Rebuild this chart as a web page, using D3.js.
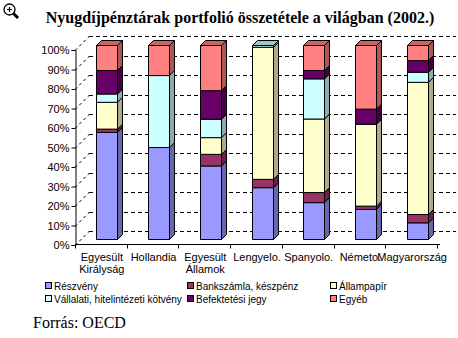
<!DOCTYPE html>
<html><head><meta charset="utf-8">
<script src="https://cdn.jsdelivr.net/npm/d3@7"></script>
<style>body{margin:0;background:#fff}svg{display:block}</style>
</head><body>
<script>
const categories = [["Egyesült","Királyság"],["Hollandia"],["Egyesült","Államok"],["Lengyelo."],["Spanyolo."],["Németo."],["Magyarország"]];
const seriesNames = ["Részvény","Bankszámla, készpénz","Állampapír","Vállalati, hitelintézeti kötvény","Befektetési jegy","Egyéb"];
const reszveny   = [55.2, 47.4, 37.9, 26.7, 19.0, 15.5,  8.6];
const bankszamla = [ 1.7,  0.0,  6.0,  4.3,  5.2,  1.7,  4.3];
const allampapir = [13.8,  0.0,  8.6, 68.1, 37.9, 42.2, 68.1];
const kotveny    = [ 4.3, 37.1,  9.5,  0.9, 20.7,  0.0,  5.2];
const befektetesi= [12.1,  0.0, 14.7,  0.0,  4.3,  7.8,  6.0];
const egyeb      = [12.9, 15.5, 23.3,  0.0, 12.9, 32.8,  7.8];
const yTicks = [0,10,20,30,40,50,60,70,80,90,100];
const title = "Nyugdíjpénztárak portfolió összetétele a világban (2002.)";
const source = "Forrás: OECD";

const colors = ["#9999FF","#993366","#FFFFCC","#CCFFFF","#660066","#FF8080"];
const seriesVals = [reszveny,bankszamla,allampapir,kotveny,befektetesi,egyeb];

const W=458,H=338;
const svg=d3.select("body").append("svg").attr("width",W).attr("height",H);

// title
svg.append("text").attr("x",240).attr("y",23).attr("text-anchor","middle")
  .attr("font-family","'Liberation Serif','Times New Roman',serif").attr("font-weight","bold")
  .attr("font-size",16).text(title);

// magnifier icon
const ic=svg.append("g").attr("transform","translate(3,3)");
ic.append("line").attr("x1",10).attr("y1",10).attr("x2",15).attr("y2",15).attr("stroke","#000").attr("stroke-width",3);
ic.append("circle").attr("cx",6.5).attr("cy",6.5).attr("r",5.5).attr("fill","#fff").attr("stroke","#000").attr("stroke-width",1.3);
ic.append("path").attr("d","M4,6.5H9M6.5,4V9").attr("stroke","#000").attr("stroke-width",1.2);

const x0=75,x1=437,depth=14;
const xScale=d3.scaleBand().domain(categories.map((c,i)=>i)).range([x0,x1]).padding(0);
const yAxisScale=d3.scaleLinear().domain([0,100]).range([245,50]);
const yBar=d3.scaleLinear().domain([0,100]).range([239.5,45.5]);

// back wall gridlines + side wall diagonals
const grid=svg.append("g").attr("stroke","#000").attr("stroke-width",1).attr("stroke-dasharray","4,3").attr("fill","none");
yTicks.forEach(t=>{
  const yf=Math.round(yAxisScale(t))+0.5;
  grid.append("line").attr("x1",x0+depth).attr("x2",456).attr("y1",yf-depth).attr("y2",yf-depth);
  grid.append("line").attr("x1",x0).attr("x2",x0+depth).attr("y1",yf).attr("y2",yf-depth).attr("stroke-dasharray","3,3");
});

// axes
const yAxis=d3.axisLeft(yAxisScale).tickValues(yTicks).tickFormat(d=>d+"%").tickSize(4);
const ya=svg.append("g").attr("transform",`translate(${x0+0.5},0)`).call(yAxis);
ya.select(".domain").attr("stroke","#000");
ya.selectAll(".tick line").attr("stroke","#000");
ya.selectAll("text").attr("font-family","'Liberation Sans',Arial,sans-serif").attr("font-size",11).attr("fill","#000").attr("x",-6);

const xa=svg.append("g").attr("transform","translate(0,244.5)");
xa.append("line").attr("x1",x0).attr("x2",x1+3).attr("stroke","#000");
categories.forEach((c,i)=>{
  const xs=Math.round(xScale(i))+0.5;
  xa.append("line").attr("x1",xs).attr("x2",xs).attr("y1",0).attr("y2",4).attr("stroke","#000");
});
xa.append("line").attr("x1",x1+0.5).attr("x2",x1+0.5).attr("y1",0).attr("y2",4).attr("stroke","#000");
categories.forEach((c,i)=>{
  const cx=xScale(i)+xScale.bandwidth()/2+1;
  const t=svg.append("text").attr("text-anchor","middle").attr("font-family","'Liberation Sans',Arial,sans-serif").attr("font-size",11);
  c.forEach((line,j)=>t.append("tspan").attr("x",cx).attr("y",261+j*12).text(line));
});

// bars
const bw=21, bd=5, off=6;
const shade=(c,k)=>d3.rgb(c).darker(k).formatHex();
categories.forEach((c,i)=>{
  const bx=Math.round(xScale(i)+(xScale.bandwidth()-bw)/2+off)+0.5;
  let cum=0;
  const g=svg.append("g").attr("stroke","#000").attr("stroke-width",1).attr("stroke-linejoin","round");
  seriesVals.forEach((vals,s)=>{
    const v=vals[i]; if(v<=0) return;
    const yb=yBar(cum), yt=yBar(cum+v);
    cum+=v;
    g.append("rect").attr("x",bx).attr("y",yt).attr("width",bw).attr("height",yb-yt).attr("fill",colors[s]);
    g.append("path").attr("d",`M${bx+bw},${yb}L${bx+bw+bd},${yb-bd}L${bx+bw+bd},${yt-bd}L${bx+bw},${yt}Z`).attr("fill",shade(colors[s],1.1));
  });
  let lastS=-1; seriesVals.forEach((vals,s)=>{ if(vals[i]>0) lastS=s; });
  const yt=yBar(cum);
  g.append("path").attr("d",`M${bx},${yt}L${bx+bd},${yt-bd}L${bx+bw+bd},${yt-bd}L${bx+bw},${yt}Z`).attr("fill",shade(colors[lastS],0.7));
});

// legend
const legX=[45,187,330], legY=[290,303];
seriesNames.forEach((n,s)=>{
  const lx=legX[s%3], ly=legY[Math.floor(s/3)];
  svg.append("rect").attr("x",lx+0.5).attr("y",ly-7.5).attr("width",6).attr("height",6).attr("fill",colors[s]).attr("stroke","#000");
  svg.append("text").attr("x",lx+9).attr("y",ly).attr("font-family","'Liberation Sans',Arial,sans-serif").attr("font-size",10).text(n);
});

svg.append("text").attr("x",33).attr("y",328).attr("font-family","'Liberation Serif','Times New Roman',serif").attr("font-size",16).text(source);
</script>
</body></html>
